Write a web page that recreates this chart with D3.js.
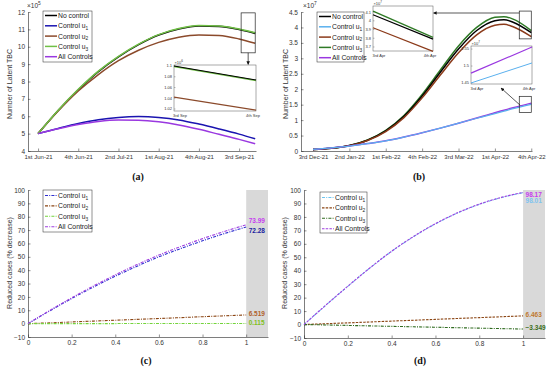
<!DOCTYPE html>
<html>
<head>
<meta charset="utf-8">
<script src="https://cdn.jsdelivr.net/npm/d3@7"></script>
<style>
body { margin: 0; background: #fff; }
svg { font-family: "Liberation Sans", Arial, sans-serif; }
</style>
</head>
<body>
<svg id="chart" width="550" height="370"></svg>
<script>
// ---------- data ----------
// (a) x = week index from "1st Jun-21", values in 1e5
const tA = [0, 0.5, 1, 1.5, 2, 2.5, 3, 3.5, 4, 4.5, 5, 5.4];
const aNoControl = [5.0, 6.33, 7.52, 8.57, 9.42, 10.12, 10.67, 11.02, 11.19, 11.17, 10.99, 10.77];
const aU1 = [5.0, 5.3, 5.58, 5.8, 5.93, 5.98, 5.93, 5.79, 5.55, 5.27, 4.97, 4.7];
const aU2 = [5.0, 6.3, 7.45, 8.4, 9.2, 9.8, 10.25, 10.55, 10.68, 10.65, 10.45, 10.2];
const aU3 = [5.0, 6.35, 7.55, 8.6, 9.45, 10.15, 10.7, 11.05, 11.22, 11.2, 11.02, 10.8];
const aAll = [5.0, 5.28, 5.52, 5.7, 5.78, 5.77, 5.68, 5.5, 5.25, 4.96, 4.67, 4.42];
const aTickLabels = ["1st Jun-21", "4th Jun-21", "2nd Jul-21", "1st Aug-21", "4th Aug-21", "3rd Sep-21"];
// (a) zoom inset, values in 1e6
const aInsetLabels = ["3rd Sep", "4th Sep"];
const aInNo = [1.100, 1.074];
const aInU3 = [1.099, 1.073];
const aInU2 = [1.042, 1.018];

// (b) x = week index from "3rd Dec-21", values in 1e7
const tB = [0, 0.5, 1, 1.5, 2, 2.5, 3, 3.5, 4, 4.5, 5, 5.25, 5.5, 6];
const bNoControl = [0.05, 0.09, 0.18, 0.35, 0.65, 1.12, 1.78, 2.55, 3.3, 3.9, 4.22, 4.25, 4.17, 3.83];
const bU1 = [0.05, 0.1, 0.16, 0.24, 0.33, 0.45, 0.59, 0.74, 0.9, 1.06, 1.21, 1.29, 1.37, 1.51];
const bU2 = [0.05, 0.09, 0.17, 0.34, 0.63, 1.08, 1.72, 2.46, 3.18, 3.76, 4.07, 4.1, 4.02, 3.7];
const bU3 = [0.05, 0.09, 0.18, 0.36, 0.67, 1.15, 1.83, 2.62, 3.4, 4.0, 4.33, 4.35, 4.27, 3.9];
const bAll = [0.05, 0.1, 0.16, 0.24, 0.33, 0.45, 0.59, 0.74, 0.9, 1.07, 1.24, 1.32, 1.4, 1.55];
const bTickLabels = ["3rd Dec-21", "2nd Jan-22", "1st Feb-22", "4th Feb-22", "3rd Mar-22", "1st Apr-22", "4th Apr-22"];
const bInsetLabels = ["3rd Apr", "4th Apr"];
const bIn1No = [4.07, 3.79];
const bIn1U2 = [3.92, 3.65];
const bIn1U3 = [4.11, 3.81];
const bIn2U1 = [1.45, 1.509];
const bIn2All = [1.479, 1.556];

// (c) and (d): reduced cases (% decrease) against x in [0, 1]
const xCD = [0, 0.1, 0.2, 0.3, 0.4, 0.5, 0.6, 0.7, 0.8, 0.9, 1.0];
const cU1 = [0, 9.6, 18.8, 27.4, 35.5, 43, 50, 56.2, 62, 67.4, 72.28];
const cU2 = [0, 0.6, 1.25, 1.9, 2.55, 3.2, 3.85, 4.5, 5.2, 5.85, 6.519];
const cU3 = [0, 0.01, 0.02, 0.035, 0.045, 0.055, 0.07, 0.08, 0.09, 0.1, 0.115];
const cAll = [0, 9.9, 19.3, 28.2, 36.5, 44.2, 51.3, 57.7, 63.6, 69, 73.99];
const dU1 = [0, 14.4, 28.4, 41.9, 54.4, 65.3, 74.8, 82.8, 89.3, 94.3, 98.01];
const dU2 = [0, 0.62, 1.26, 1.9, 2.55, 3.2, 3.85, 4.5, 5.15, 5.8, 6.463];
const dU3 = [0, -0.3, -0.65, -1.0, -1.33, -1.67, -2.0, -2.35, -2.68, -3.02, -3.349];
const dAll = [0, 14.5, 28.5, 42, 54.5, 65.5, 75, 83, 89.5, 94.5, 98.17];

// ---------- helpers ----------
const svg = d3.select("#chart");
const ink = "#262626";

const defs = svg.append("defs");
defs.append("marker")
  .attr("id", "arr").attr("viewBox", "0 0 10 10").attr("refX", 9).attr("refY", 5)
  .attr("markerWidth", 5).attr("markerHeight", 5).attr("orient", "auto")
  .append("path").attr("d", "M0,0L10,5L0,10z").attr("fill", "#111");

function axes(x, y, xTicks, xFmt, yTicks, yFmt, xSize) {
  const gx = svg.append("g")
    .attr("transform", `translate(0,${y.range()[0]})`)
    .call(d3.axisBottom(x).tickValues(xTicks).tickFormat(xFmt)
      .tickSizeInner(-2.5).tickSizeOuter(0).tickPadding(3.5));
  const gy = svg.append("g")
    .attr("transform", `translate(${x.range()[0]},0)`)
    .call(d3.axisLeft(y).tickValues(yTicks).tickFormat(yFmt)
      .tickSizeInner(-2.5).tickSizeOuter(0).tickPadding(3));
  gx.attr("font-size", xSize || 6.5);
  gy.attr("font-size", 6.5);
  [gx, gy].forEach(g => {
    g.attr("font-family", "Liberation Sans, Arial, sans-serif");
    g.select(".domain").attr("stroke", ink).attr("stroke-width", 0.6);
    g.selectAll(".tick line").attr("stroke", ink).attr("stroke-width", 0.5);
    g.selectAll(".tick text").attr("fill", "#333");
  });
}

function series(x, y, xs, ys, color, width, dash) {
  svg.append("path")
    .datum(xs.map((v, i) => [v, ys[i]]))
    .attr("fill", "none")
    .attr("stroke", color)
    .attr("stroke-width", width)
    .attr("stroke-dasharray", dash || null)
    .attr("d", d3.line().x(d => x(d[0])).y(d => y(d[1])).curve(d3.curveMonotoneX));
}

function yLabel(x, yc, text) {
  svg.append("text")
    .attr("transform", `translate(${x},${yc}) rotate(-90)`)
    .attr("text-anchor", "middle").attr("font-size", 7).attr("fill", "#333")
    .text(text);
}

function expLabel(x, y, exp, size) {
  const t = svg.append("text").attr("x", x).attr("y", y)
    .attr("font-size", size).attr("fill", "#333");
  t.append("tspan").text("×10");
  t.append("tspan").attr("font-size", size * 0.75).attr("dy", -size * 0.4).text(exp);
}

function legend(x0, y0, w, h, rows, rowGap, items) {
  svg.append("rect").attr("x", x0).attr("y", y0).attr("width", w).attr("height", h)
    .attr("fill", "#fff").attr("stroke", ink).attr("stroke-width", 0.5);
  items.forEach((it, i) => {
    const yy = y0 + rows + i * rowGap;
    svg.append("line").attr("x1", x0 + 2).attr("x2", x0 + 14).attr("y1", yy).attr("y2", yy)
      .attr("stroke", it.color).attr("stroke-width", it.width || 1.5)
      .attr("stroke-dasharray", it.dash || null);
    const t = svg.append("text").attr("x", x0 + 15).attr("y", yy + 2.4)
      .attr("font-size", 6.8).attr("fill", "#222");
    t.append("tspan").text(it.name);
    if (it.sub) t.append("tspan").attr("font-size", 4.8).attr("dy", 1.8).text(it.sub);
  });
}

function inset(box, yDom, yTicks, xLabels, exp, lines) {
  const x = d3.scaleLinear().domain([0, 1]).range([box[0], box[1]]);
  const y = d3.scaleLinear().domain(yDom).range([box[3], box[2]]);
  svg.append("rect").attr("x", box[0]).attr("y", box[2])
    .attr("width", box[1] - box[0]).attr("height", box[3] - box[2])
    .attr("fill", "#fff").attr("stroke", "#555").attr("stroke-width", 0.5);
  yTicks.forEach(v => {
    svg.append("line").attr("x1", box[0]).attr("x2", box[0] + 1.5)
      .attr("y1", y(v)).attr("y2", y(v)).attr("stroke", "#555").attr("stroke-width", 0.4);
    svg.append("text").attr("x", box[0] - 2).attr("y", y(v) + 1.4)
      .attr("text-anchor", "end").attr("font-size", 4).attr("fill", "#333").text(d3.format("~g")(v));
  });
  xLabels.forEach((lab, i) => {
    svg.append("text").attr("x", x(i) + (i === 0 ? 6 : -3)).attr("y", box[3] + 5.5)
      .attr("text-anchor", "middle").attr("font-size", 4).attr("fill", "#333").text(lab);
  });
  expLabel(box[0] + 0.5, box[2] - 1, exp, 4);
  lines.forEach(l => {
    svg.append("line").attr("x1", x(0)).attr("x2", x(1))
      .attr("y1", y(l.v[0])).attr("y2", y(l.v[1]))
      .attr("stroke", l.color).attr("stroke-width", l.width || 1.2);
  });
}

function panelTag(x, y, s) {
  svg.append("text").attr("x", x).attr("y", y).attr("text-anchor", "middle")
    .attr("font-family", "Liberation Serif, serif").attr("font-weight", "bold")
    .attr("font-size", 10).attr("fill", "#111").text(s);
}

// ---------- panel (a) ----------
{
  const x = d3.scaleLinear().domain([-0.25, 5.42]).range([28, 256]);
  const y = d3.scaleLinear().domain([4, 12]).range([151, 12]);
  axes(x, y, d3.range(0, 6), i => aTickLabels[i], d3.range(4, 13), d3.format("d"), 6);
  yLabel(12, 84, "Number of Latent TBC");
  expLabel(27, 8, "5", 6.5);

  series(x, y, tA, aNoControl, "#000", 1.6);
  series(x, y, tA, aU1, "#1a14b0", 1.5);
  series(x, y, tA, aU2, "#8b4a2b", 1.5);
  series(x, y, tA, aU3, "#70c046", 1.5);
  series(x, y, tA, aAll, "#9a38e0", 1.5);

  legend(43, 11, 49, 51, 4.5, 10.3, [
    { name: "No control", color: "#000" },
    { name: "Control u", sub: "1", color: "#1a14b0" },
    { name: "Control u", sub: "2", color: "#8b4a2b" },
    { name: "Control u", sub: "3", color: "#70c046" },
    { name: "All Controls", color: "#9a38e0" }
  ]);

  // zoom rectangle and arrow
  const rx0 = x(5.05), rx1 = x(5.4), ry0 = y(11.95), ry1 = y(9.65);
  svg.append("rect").attr("x", rx0).attr("y", ry0).attr("width", rx1 - rx0).attr("height", ry1 - ry0)
    .attr("fill", "none").attr("stroke", "#222").attr("stroke-width", 0.7);
  const box = [174, 256, 65, 111];
  svg.append("line").attr("x1", (rx0 + rx1) / 2).attr("x2", (rx0 + rx1) / 2)
    .attr("y1", ry1).attr("y2", box[2] - 0.5)
    .attr("stroke", "#111").attr("stroke-width", 0.7).attr("marker-end", "url(#arr)");
  inset(box, [1.0163, 1.1019], [1.02, 1.04, 1.06, 1.08, 1.1], aInsetLabels, "6", [
    { v: aInU3, color: "#70c046", width: 1.6 },
    { v: aInNo, color: "#000", width: 1.2 },
    { v: aInU2, color: "#8b4a2b", width: 1.2 }
  ]);
  panelTag(138, 180, "(a)");
}

// ---------- panel (b) ----------
{
  const x = d3.scaleLinear().domain([-0.33, 6.02]).range([301, 532]);
  const y = d3.scaleLinear().domain([0, 4.5]).range([151, 12]);
  axes(x, y, d3.range(0, 7), i => bTickLabels[i], d3.range(0, 4.51, 0.5), d3.format("~g"), 6);
  yLabel(288, 84, "Number of Latent TBC");
  expLabel(303, 8, "7", 6.5);

  series(x, y, tB, bU3, "#2f7a26", 1.5);
  series(x, y, tB, bNoControl, "#000", 1.5);
  series(x, y, tB, bU2, "#8b3a1a", 1.5);
  series(x, y, tB, bAll, "#9a38e0", 1.5);
  series(x, y, tB, bU1, "#5ab0ee", 1.2);

  legend(317, 12, 47, 50, 4.5, 10.3, [
    { name: "No control", color: "#000" },
    { name: "Control u", sub: "1", color: "#5ab0ee" },
    { name: "Control u", sub: "2", color: "#8b3a1a" },
    { name: "Control u", sub: "3", color: "#2f7a26" },
    { name: "All Controls", color: "#9a38e0" }
  ]);

  // upper zoom
  const r1 = [x(5.67), x(6.0), y(4.53), y(3.63)];
  svg.append("rect").attr("x", r1[0]).attr("y", r1[2]).attr("width", r1[1] - r1[0]).attr("height", r1[3] - r1[2])
    .attr("fill", "none").attr("stroke", "#222").attr("stroke-width", 0.7);
  const box1 = [373, 433, 6, 51];
  svg.append("line").attr("x1", r1[0]).attr("x2", box1[1] + 0.5)
    .attr("y1", 13).attr("y2", 13)
    .attr("stroke", "#111").attr("stroke-width", 0.7).attr("marker-end", "url(#arr)");
  inset(box1, [3.654, 4.17], [3.7, 3.8, 3.9, 4, 4.1], bInsetLabels, "7", [
    { v: bIn1U3, color: "#2f7a26", width: 1.4 },
    { v: bIn1No, color: "#000", width: 1.2 },
    { v: bIn1U2, color: "#8b3a1a", width: 1.2 }
  ]);

  // lower zoom
  const r2 = [x(5.67), x(6.0), y(1.77), y(1.25)];
  svg.append("rect").attr("x", r2[0]).attr("y", r2[2]).attr("width", r2[1] - r2[0]).attr("height", r2[3] - r2[2])
    .attr("fill", "none").attr("stroke", "#222").attr("stroke-width", 0.7);
  const box2 = [471, 532, 46, 84];
  svg.append("line").attr("x1", r2[0] + 1).attr("x2", 501)
    .attr("y1", r2[2] + 9).attr("y2", 88)
    .attr("stroke", "#111").attr("stroke-width", 0.7).attr("marker-end", "url(#arr)");
  inset(box2, [1.447, 1.559], [1.45, 1.5, 1.55], bInsetLabels, "7", [
    { v: bIn2All, color: "#9a38e0", width: 1.2 },
    { v: bIn2U1, color: "#5ab0ee", width: 1.0 }
  ]);
  panelTag(419, 180, "(b)");
}

// ---------- panels (c) and (d) ----------
function reducedPanel(xr, yr, ylx, lines, legendBox, labels, tag) {
  const x = d3.scaleLinear().domain([0, 1.1]).range(xr);
  const y = d3.scaleLinear().domain([-10, 100]).range(yr);
  svg.append("rect").attr("x", x(1)).attr("y", y(100)).attr("width", x(1.1) - x(1))
    .attr("height", y(-10) - y(100)).attr("fill", "#d9d9d9");
  axes(x, y, d3.range(0, 1.01, 0.2), d3.format("~g"), d3.range(-10, 101, 10), d3.format("d"));
  yLabel(ylx, 263, "Reduced cases (% decrease)");
  lines.forEach(l => series(x, y, xCD, l.v, l.color, 1.1, l.dash));
  legend(legendBox[0], legendBox[1], legendBox[2], legendBox[3], 5.5, 10.4, lines.map(l => ({
    name: l.name, sub: l.sub, color: l.color, dash: l.dash, width: 1.1
  })));
  labels.forEach(lb => {
    svg.append("text").attr("x", x(1) + 2.5).attr("y", y(lb.v) + lb.dy + 2.4)
      .attr("font-size", 6.5).attr("font-weight", "bold").attr("fill", lb.color)
      .text(d3.format("~g")(lb.v));
  });
  panelTag(tag[1], 364, tag[0]);
}

reducedPanel([28, 268], [337, 190], 12, [
  { name: "Control u", sub: "1", v: cU1, color: "#2e2ed0", dash: "3,1.2,1,1.2" },
  { name: "Control u", sub: "2", v: cU2, color: "#8b4513", dash: "3,1.2,1,1.2" },
  { name: "Control u", sub: "3", v: cU3, color: "#74d43c", dash: "3,1.2,1,1.2" },
  { name: "All Controls", v: cAll, color: "#a040e0", dash: "3,1.2,1,1.2" }
], [43, 190, 49, 42], [
  { v: cAll[10], dy: -4, color: "#c63cf0" },
  { v: cU1[10], dy: 4, color: "#1a1aa0" },
  { v: cU2[10], dy: -1.5, color: "#b0602a" },
  { v: cU3[10], dy: -1, color: "#80c020" }
], ["(c)", 146]);

reducedPanel([304, 545], [338, 190], 287, [
  { name: "Control u", sub: "1", v: dU1, color: "#6cc4f0", dash: "3,1.2,1,1.2" },
  { name: "Control u", sub: "2", v: dU2, color: "#8b4513", dash: "2.5,1.2" },
  { name: "Control u", sub: "3", v: dU3, color: "#2f6b1f", dash: "3,1.2,1,1.2" },
  { name: "All Controls", v: dAll, color: "#a040e0", dash: "2.5,1.2" }
], [320, 192, 47, 41], [
  { v: dAll[10], dy: 2.5, color: "#c63cf0" },
  { v: dU1[10], dy: 8, color: "#80c4f0" },
  { v: dU2[10], dy: -1.5, color: "#c07a30" },
  { v: dU3[10], dy: -1, color: "#3a6e20" }
], ["(d)", 420]);
</script>
</body>
</html>
